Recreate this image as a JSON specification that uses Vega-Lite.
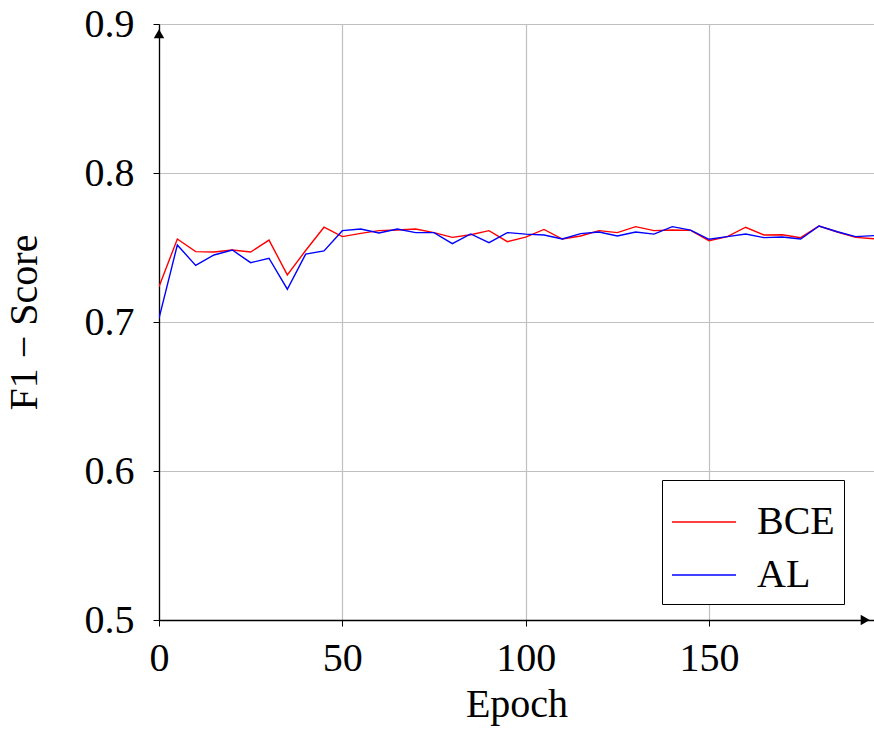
{
  "$schema": "https://vega.github.io/schema/vega-lite/v6.json",
  "width": 715,
  "height": 596,
  "autosize": {"type": "none"},
  "padding": {"left": 159, "top": 24, "right": 0, "bottom": 111},
  "background": "white",
  "datasets": {
    "scores": [
      {"epoch": 0, "f1": 0.7237, "loss": "BCE"},
      {"epoch": 5, "f1": 0.7557, "loss": "BCE"},
      {"epoch": 10, "f1": 0.7472, "loss": "BCE"},
      {"epoch": 15, "f1": 0.747, "loss": "BCE"},
      {"epoch": 20, "f1": 0.7483, "loss": "BCE"},
      {"epoch": 25, "f1": 0.747, "loss": "BCE"},
      {"epoch": 30, "f1": 0.755, "loss": "BCE"},
      {"epoch": 35, "f1": 0.7316, "loss": "BCE"},
      {"epoch": 40, "f1": 0.748, "loss": "BCE"},
      {"epoch": 45, "f1": 0.7636, "loss": "BCE"},
      {"epoch": 50, "f1": 0.7573, "loss": "BCE"},
      {"epoch": 55, "f1": 0.7595, "loss": "BCE"},
      {"epoch": 60, "f1": 0.7613, "loss": "BCE"},
      {"epoch": 65, "f1": 0.7617, "loss": "BCE"},
      {"epoch": 70, "f1": 0.7624, "loss": "BCE"},
      {"epoch": 75, "f1": 0.76, "loss": "BCE"},
      {"epoch": 80, "f1": 0.7568, "loss": "BCE"},
      {"epoch": 85, "f1": 0.7586, "loss": "BCE"},
      {"epoch": 90, "f1": 0.7613, "loss": "BCE"},
      {"epoch": 95, "f1": 0.7539, "loss": "BCE"},
      {"epoch": 100, "f1": 0.757, "loss": "BCE"},
      {"epoch": 105, "f1": 0.7621, "loss": "BCE"},
      {"epoch": 110, "f1": 0.7557, "loss": "BCE"},
      {"epoch": 115, "f1": 0.7577, "loss": "BCE"},
      {"epoch": 120, "f1": 0.7613, "loss": "BCE"},
      {"epoch": 125, "f1": 0.76, "loss": "BCE"},
      {"epoch": 130, "f1": 0.764, "loss": "BCE"},
      {"epoch": 135, "f1": 0.7613, "loss": "BCE"},
      {"epoch": 140, "f1": 0.7617, "loss": "BCE"},
      {"epoch": 145, "f1": 0.7615, "loss": "BCE"},
      {"epoch": 150, "f1": 0.7546, "loss": "BCE"},
      {"epoch": 155, "f1": 0.7573, "loss": "BCE"},
      {"epoch": 160, "f1": 0.7636, "loss": "BCE"},
      {"epoch": 165, "f1": 0.7584, "loss": "BCE"},
      {"epoch": 170, "f1": 0.7586, "loss": "BCE"},
      {"epoch": 175, "f1": 0.7566, "loss": "BCE"},
      {"epoch": 180, "f1": 0.7644, "loss": "BCE"},
      {"epoch": 185, "f1": 0.7604, "loss": "BCE"},
      {"epoch": 190, "f1": 0.7568, "loss": "BCE"},
      {"epoch": 195, "f1": 0.7559, "loss": "BCE"},
      {"epoch": 0, "f1": 0.7025, "loss": "AL"},
      {"epoch": 5, "f1": 0.7517, "loss": "AL"},
      {"epoch": 10, "f1": 0.738, "loss": "AL"},
      {"epoch": 15, "f1": 0.745, "loss": "AL"},
      {"epoch": 20, "f1": 0.7483, "loss": "AL"},
      {"epoch": 25, "f1": 0.7398, "loss": "AL"},
      {"epoch": 30, "f1": 0.7428, "loss": "AL"},
      {"epoch": 35, "f1": 0.722, "loss": "AL"},
      {"epoch": 40, "f1": 0.7456, "loss": "AL"},
      {"epoch": 45, "f1": 0.7477, "loss": "AL"},
      {"epoch": 50, "f1": 0.7613, "loss": "AL"},
      {"epoch": 55, "f1": 0.7624, "loss": "AL"},
      {"epoch": 60, "f1": 0.7597, "loss": "AL"},
      {"epoch": 65, "f1": 0.7624, "loss": "AL"},
      {"epoch": 70, "f1": 0.76, "loss": "AL"},
      {"epoch": 75, "f1": 0.76, "loss": "AL"},
      {"epoch": 80, "f1": 0.7526, "loss": "AL"},
      {"epoch": 85, "f1": 0.7591, "loss": "AL"},
      {"epoch": 90, "f1": 0.7532, "loss": "AL"},
      {"epoch": 95, "f1": 0.76, "loss": "AL"},
      {"epoch": 100, "f1": 0.759, "loss": "AL"},
      {"epoch": 105, "f1": 0.7584, "loss": "AL"},
      {"epoch": 110, "f1": 0.7557, "loss": "AL"},
      {"epoch": 115, "f1": 0.7593, "loss": "AL"},
      {"epoch": 120, "f1": 0.7604, "loss": "AL"},
      {"epoch": 125, "f1": 0.7577, "loss": "AL"},
      {"epoch": 130, "f1": 0.7604, "loss": "AL"},
      {"epoch": 135, "f1": 0.759, "loss": "AL"},
      {"epoch": 140, "f1": 0.764, "loss": "AL"},
      {"epoch": 145, "f1": 0.7617, "loss": "AL"},
      {"epoch": 150, "f1": 0.7555, "loss": "AL"},
      {"epoch": 155, "f1": 0.7573, "loss": "AL"},
      {"epoch": 160, "f1": 0.7591, "loss": "AL"},
      {"epoch": 165, "f1": 0.7566, "loss": "AL"},
      {"epoch": 170, "f1": 0.757, "loss": "AL"},
      {"epoch": 175, "f1": 0.7557, "loss": "AL"},
      {"epoch": 180, "f1": 0.7644, "loss": "AL"},
      {"epoch": 185, "f1": 0.7606, "loss": "AL"},
      {"epoch": 190, "f1": 0.7573, "loss": "AL"},
      {"epoch": 195, "f1": 0.758, "loss": "AL"}
    ],
    "arrows": [
      {"epoch": 192.6, "f1": 0.5, "shape": "triangle-right"},
      {"epoch": 0, "f1": 0.8935, "shape": "triangle-up"}
    ]
  },
  "encoding": {
    "x": {
      "field": "epoch",
      "type": "quantitative",
      "scale": {"domain": [0, 195], "nice": false, "zero": false},
      "axis": {
        "title": "Epoch",
        "titleFont": "Times New Roman",
        "labelFont": "Times New Roman",
        "labelFontSize": 40,
        "titleFontSize": 40,
        "titleFontWeight": "normal",
        "values": [0, 50, 100, 150],
        "labelPadding": 12,
        "titlePadding": 6,
        "labelFlush": false,
        "domainColor": "black",
        "domainWidth": 1.3,
        "tickColor": "black",
        "tickSize": 6,
        "gridColor": "#c0c0c0",
        "gridWidth": 1.2,
        "gridOpacity": 1
      }
    },
    "y": {
      "field": "f1",
      "type": "quantitative",
      "scale": {"domain": [0.5, 0.9], "nice": false, "zero": false},
      "axis": {
        "title": "F1 − Score",
        "titleFont": "Times New Roman",
        "labelFont": "Times New Roman",
        "labelFontSize": 40,
        "titleFontSize": 40,
        "titleFontWeight": "normal",
        "values": [0.5, 0.6, 0.7, 0.8, 0.9],
        "format": ".1f",
        "labelPadding": 19,
        "titlePadding": 40,
        "labelFlush": false,
        "domainColor": "black",
        "domainWidth": 1.3,
        "tickColor": "black",
        "tickSize": 6,
        "gridColor": "#c0c0c0",
        "gridWidth": 1.2,
        "gridOpacity": 1
      }
    }
  },
  "layer": [
    {
      "data": {"name": "scores"},
      "mark": {"type": "line", "strokeWidth": 1.4, "clip": true},
      "encoding": {
        "color": {
          "field": "loss",
          "type": "nominal",
          "scale": {"domain": ["BCE", "AL"], "range": ["#ff0000", "#0000ff"]},
          "legend": {
            "title": null,
            "orient": "none",
            "legendX": 503,
            "legendY": 456,
            "symbolType": "stroke",
            "symbolSize": 4096,
            "symbolStrokeWidth": 1.5,
            "labelFont": "Times New Roman",
            "labelFontSize": 40,
            "labelAlign": "left",
            "labelOffset": 20,
            "labelLimit": 300,
            "padding": 9,
            "rowPadding": -8,
            "strokeColor": "black",
            "fillColor": "white",
            "cornerRadius": 0
          }
        }
      }
    },
    {
      "data": {"name": "arrows"},
      "mark": {"type": "point", "filled": true, "color": "black", "opacity": 1, "size": 110, "clip": false},
      "encoding": {
        "shape": {"field": "shape", "type": "nominal", "scale": null, "legend": null}
      }
    }
  ]
}
